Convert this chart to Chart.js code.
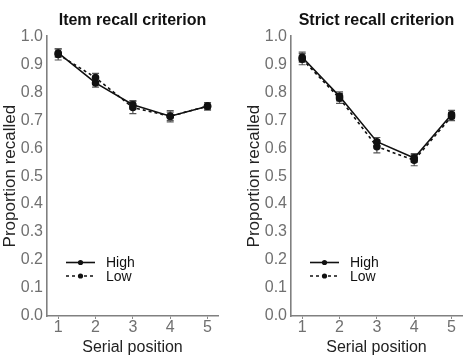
<!DOCTYPE html>
<html>
<head>
<meta charset="utf-8">
<script src="https://cdn.jsdelivr.net/npm/chart.js@4.4.1/dist/chart.umd.min.js"></script>
<style>
  html, body { margin: 0; padding: 0; background: #fff; }
  .wrap { position: relative; width: 469px; height: 356px; }
  .box { position: absolute; top: 0; width: 225px; height: 356px; }
</style>
</head>
<body>
<div class="wrap">
  <div class="box" style="left:0"><canvas id="left"></canvas></div>
  <div class="box" style="left:244px"><canvas id="right"></canvas></div>
</div>
<script>
const positions = [1, 2, 3, 4, 5];
const yTicks = [0, 0.1, 0.2, 0.3, 0.4, 0.5, 0.6, 0.7, 0.8, 0.9, 1.0];

// Item recall criterion
const itemHigh = [0.94, 0.833, 0.755, 0.714, 0.75];
const itemHighErr = [0.015, 0.015, 0.015, 0.015, 0.013];
const itemLow = [0.935, 0.852, 0.745, 0.714, 0.75];
const itemLowErr = [0.02, 0.015, 0.022, 0.02, 0.013];

// Strict recall criterion
const strictHigh = [0.925, 0.785, 0.623, 0.565, 0.72];
const strictHighErr = [0.018, 0.016, 0.015, 0.015, 0.015];
const strictLow = [0.918, 0.778, 0.605, 0.557, 0.713];
const strictLowErr = [0.02, 0.018, 0.022, 0.02, 0.015];

const FONT = "Arial, 'Liberation Sans', sans-serif";

const errorBars = {
  id: "errorBars",
  beforeDatasetsDraw(chart) {
    const ctx = chart.ctx;
    const ys = chart.scales.y;
    ctx.save();
    ctx.strokeStyle = "#555";
    ctx.lineWidth = 1.2;
    chart.data.datasets.forEach((ds, i) => {
      const meta = chart.getDatasetMeta(i);
      meta.data.forEach((pt, j) => {
        const v = ds.data[j].y, e = ds.errs[j];
        const y1 = ys.getPixelForValue(v - e);
        const y2 = ys.getPixelForValue(v + e);
        ctx.beginPath();
        ctx.moveTo(pt.x, y1); ctx.lineTo(pt.x, y2);
        ctx.moveTo(pt.x - 3.5, y1); ctx.lineTo(pt.x + 3.5, y1);
        ctx.moveTo(pt.x - 3.5, y2); ctx.lineTo(pt.x + 3.5, y2);
        ctx.stroke();
      });
    });
    ctx.restore();
  }
};

const lineLegend = {
  id: "lineLegend",
  afterDraw(chart) {
    const ctx = chart.ctx;
    const a = chart.chartArea;
    const rows = [
      { label: "High", dash: [], y: a.bottom - 53.5 },
      { label: "Low", dash: [3, 3], y: a.bottom - 40 }
    ];
    ctx.save();
    rows.forEach(r => {
      const x0 = a.left + 19, x1 = a.left + 48;
      ctx.strokeStyle = "#111";
      ctx.lineWidth = 1.6;
      ctx.setLineDash(r.dash);
      ctx.beginPath();
      ctx.moveTo(x0, r.y); ctx.lineTo(x1, r.y);
      ctx.stroke();
      ctx.setLineDash([]);
      ctx.fillStyle = "#111";
      ctx.beginPath();
      ctx.arc((x0 + x1) / 2, r.y, 2.6, 0, Math.PI * 2);
      ctx.fill();
      ctx.font = "14px " + FONT;
      ctx.textBaseline = "middle";
      ctx.fillText(r.label, a.left + 59, r.y + 1);
    });
    ctx.restore();
  }
};

function makeChart(id, title, high, highErr, low, lowErr) {
  const ctx = document.getElementById(id).getContext("2d");
  return new Chart(ctx, {
    type: "line",
    data: {
      datasets: [
        {
          label: "High",
          data: positions.map((p, i) => ({ x: p, y: high[i] })),
          errs: highErr,
          borderColor: "#111",
          backgroundColor: "#111",
          borderWidth: 1.6,
          pointRadius: 3,
        },
        {
          label: "Low",
          data: positions.map((p, i) => ({ x: p, y: low[i] })),
          errs: lowErr,
          borderColor: "#111",
          backgroundColor: "#111",
          borderWidth: 1.6,
          borderDash: [3, 3],
          pointRadius: 3,
        },
      ],
    },
    options: {
      responsive: true,
      maintainAspectRatio: false,
      animation: false,
      events: [],
      layout: { padding: { left: 0, right: 7, top: 0, bottom: 0 } },
      scales: {
        x: {
          type: "linear",
          min: 0.7,
          max: 5.28,
          afterBuildTicks: s => { s.ticks = positions.map(v => ({ value: v })); },
          afterFit: s => { s.height = 40; },
          grid: { drawOnChartArea: false, drawTicks: true, tickLength: 3, color: "#888" },
          border: { display: true, color: "#808080", width: 1.6 },
          ticks: { color: "#707070", font: { size: 16, family: FONT }, padding: -1 },
          title: {
            display: true,
            text: "Serial position",
            color: "#222",
            font: { size: 16, family: FONT, lineHeight: 1.0 },
            padding: { top: 0, bottom: 0 },
          },
        },
        y: {
          min: 0,
          max: 1,
          afterBuildTicks: s => { s.ticks = yTicks.map(v => ({ value: v })); },
          afterFit: s => { s.width = 47; },
          grid: { drawOnChartArea: false, drawTicks: false },
          border: { display: true, color: "#808080", width: 1.6 },
          ticks: {
            color: "#707070",
            font: { size: 16, family: FONT },
            padding: 4,
            callback: v => v.toFixed(1),
          },
          title: {
            display: true,
            text: "Proportion recalled",
            color: "#222",
            font: { size: 17, family: FONT },
            padding: { top: 0, bottom: 0 },
          },
        },
      },
      plugins: {
        legend: { display: false },
        tooltip: { enabled: false },
        title: {
          display: true,
          text: title,
          fullSize: false,
          color: "#111",
          font: { size: 16, weight: "bold", family: FONT },
          padding: { top: 11, bottom: 6 },
        },
      },
    },
    plugins: [errorBars, lineLegend],
  });
}

makeChart("left", "Item recall criterion", itemHigh, itemHighErr, itemLow, itemLowErr);
makeChart("right", "Strict recall criterion", strictHigh, strictHighErr, strictLow, strictLowErr);
</script>
</body>
</html>
